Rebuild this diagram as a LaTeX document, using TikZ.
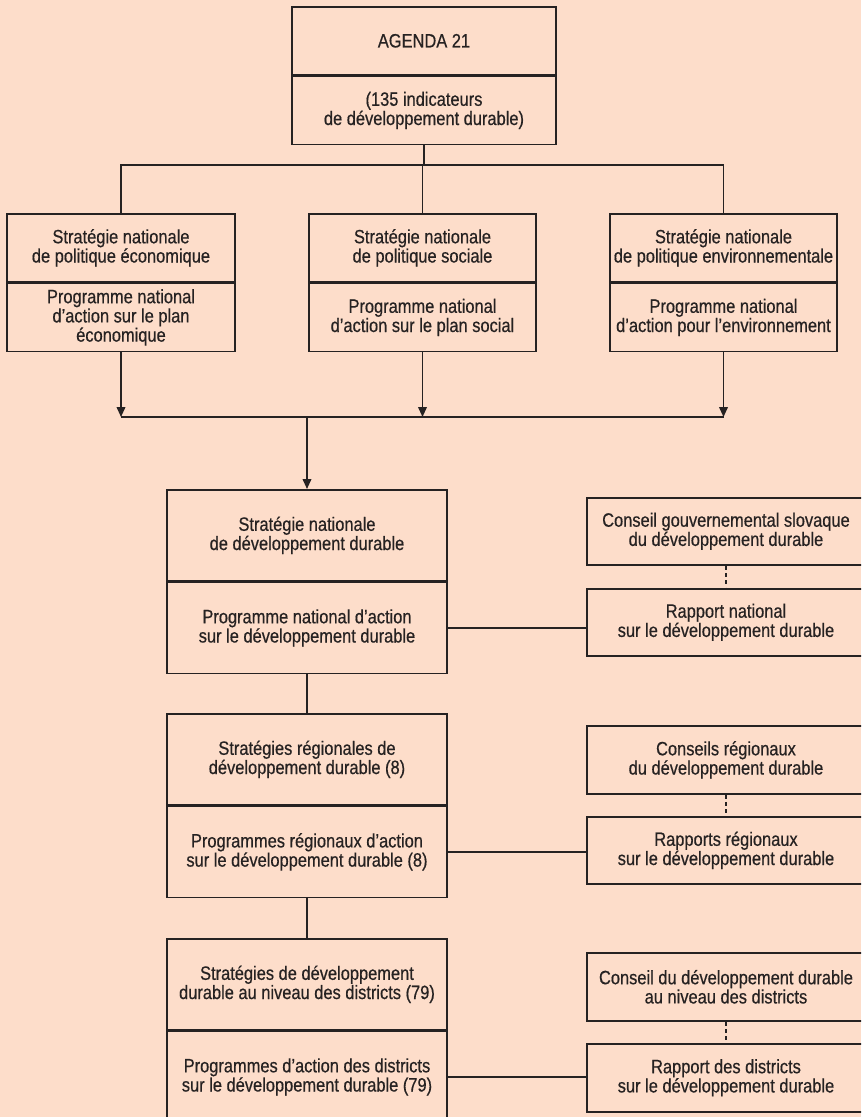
\documentclass[tikz,border=0pt]{standalone}
\usepackage{fontspec}
\setmainfont[FakeStretch=0.85,FakeBold=0.5]{Liberation Sans}
\usetikzlibrary{arrows.meta}
\definecolor{peach}{RGB}{253,221,202}
\definecolor{ink}{RGB}{38,34,34}

\begin{document}
\begin{tikzpicture}[
    x=0.75pt, y=-0.75pt,
    box/.style={draw=ink, line width=1.2pt, inner sep=0pt, align=center,
      anchor=north, text=ink, font=\fontsize{14.5}{14.4}\selectfont},
    bw/.style={minimum width=#1*0.75pt},
    bh/.style={minimum height=#1*0.75pt},
    link/.style={draw=ink, line width=1.2pt},
    arr/.style={link, -{Triangle[length=7.5pt,width=6.5pt]}},
    dashlink/.style={link, dash pattern=on 3pt off 2.5pt},
  ]
  % Background and frame
  \fill[peach] (0,0) rectangle (861,1117);
  \clip (0,0) rectangle (861,1117);

  % Agenda
  \node[box, bw=264, bh=68] (agA) at (424,6) {AGENDA 21};
  \node[box, bw=264, bh=68] (agB) at (agA.south) {(135 indicateurs\\de développement durable)};

  % National strategies
  \node[box, bw=228, bh=68] (ecoA) at (121,213) {Stratégie nationale\\de politique économique};
  \node[box, bw=228, bh=68] (ecoB) at (ecoA.south) {Programme national\\d’action sur le plan\\économique};
  \node[box, bw=227, bh=68] (socA) at (422.5,213) {Stratégie nationale\\de politique sociale};
  \node[box, bw=227, bh=68] (socB) at (socA.south) {Programme national\\d’action sur le plan social};
  \node[box, bw=227, bh=68] (envA) at (723.5,213) {Stratégie nationale\\de politique environnementale};
  \node[box, bw=227, bh=68] (envB) at (envA.south) {Programme national\\d’action pour l’environnement};

  % Sustainable development chain
  \node[box, bw=280, bh=91] (natA) at (307,489) {Stratégie nationale\\de développement durable};
  \node[box, bw=280, bh=91] (natB) at (natA.south) {Programme national d’action\\sur le développement durable};
  \node[box, bw=280, bh=91] (regA) at (307,713) {Stratégies régionales de\\développement durable (8)};
  \node[box, bw=280, bh=91] (regB) at (regA.south) {Programmes régionaux d’action\\sur le développement durable (8)};
  \node[box, bw=280, bh=91] (disA) at (307,938) {Stratégies de développement\\durable au niveau des districts (79)};
  \node[box, bw=280, bh=91] (disB) at (disA.south) {Programmes d’action des districts\\sur le développement durable (79)};

  % Councils and reports
  \node[box, bw=278, bh=67] (conN) at (726,497) {Conseil gouvernemental slovaque\\du développement durable};
  \node[box, bw=278, bh=67] (repN) at (726,588) {Rapport national\\sur le développement durable};
  \node[box, bw=278, bh=68] (conR) at (726,725) {Conseils régionaux\\du développement durable};
  \node[box, bw=278, bh=67] (repR) at (726,816) {Rapports régionaux\\sur le développement durable};
  \node[box, bw=278, bh=68] (conD) at (726,952) {Conseil du développement durable\\au niveau des districts};
  \node[box, bw=278, bh=68] (repD) at (726,1043) {Rapport des districts\\sur le développement durable};

  % Connectors
  \coordinate (hub) at (423,165);
  \coordinate (sink) at (307,417);
  \draw[link] (agB.south) -- (agB.south |- hub);
  \draw[link] (ecoA.north) -- (ecoA.north |- hub) -- (envA.north |- hub) -- (envA.north);
  \draw[link] (socA.north) -- (socA.north |- hub);
  \foreach \n in {ecoB,socB,envB}
    \draw[arr] (\n.south) -- (\n.south |- sink);
  \draw[link] (ecoB.south |- sink) -- (envB.south |- sink);
  \draw[arr] (sink) -- (natA.north);
  \draw[link] (natB.south) -- (regA.north);
  \draw[link] (regB.south) -- (disA.north);
  \draw[link] (natB.east) -- (natB.east -| repN.west);
  \draw[link] (regB.east) -- (regB.east -| repR.west);
  \draw[link] (disB.east) -- (disB.east -| repD.west);
  \draw[dashlink] (conN.south) -- (repN.north);
  \draw[dashlink] (conR.south) -- (repR.north);
  \draw[dashlink] (conD.south) -- (repD.north);
\end{tikzpicture}
\end{document}
